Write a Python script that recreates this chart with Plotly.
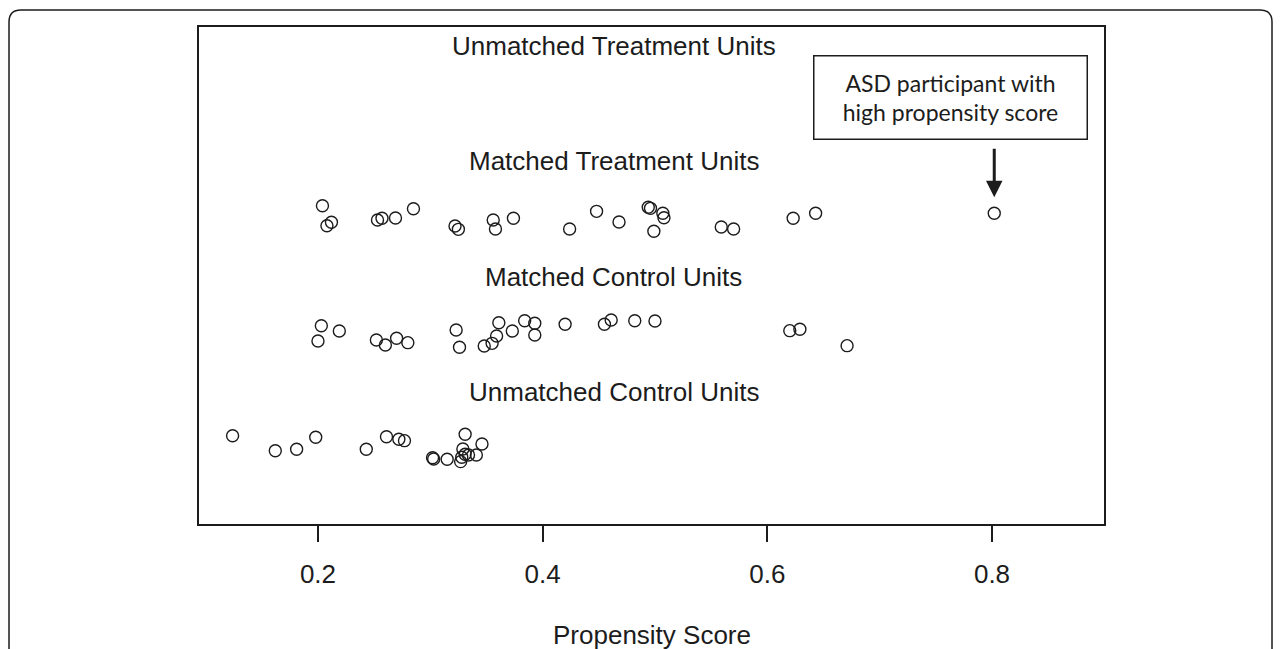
import plotly.graph_objects as go

# Propensity scores (x) and jittered vertical positions (y)
mt_x = [0.204, 0.208, 0.212, 0.253, 0.257, 0.269, 0.285, 0.322, 0.325, 0.356, 0.358, 0.374,
        0.424, 0.448, 0.468, 0.494, 0.496, 0.507, 0.508, 0.499, 0.559, 0.570, 0.623, 0.643, 0.802]
mt_y = [3.116, 2.942, 2.972, 2.992, 3.007, 3.009, 3.090, 2.940, 2.911, 2.992, 2.914, 3.007,
        2.914, 3.067, 2.974, 3.102, 3.093, 3.050, 3.012, 2.894, 2.931, 2.914, 3.007, 3.050, 3.050]

mc_x = [0.203, 0.200, 0.219, 0.252, 0.260, 0.270, 0.280, 0.323, 0.326, 0.361, 0.359, 0.355,
        0.348, 0.373, 0.384, 0.393, 0.393, 0.420, 0.455, 0.461, 0.482, 0.500, 0.620, 0.629, 0.671]
mc_y = [2.075, 1.942, 2.029, 1.951, 1.908, 1.966, 1.928, 2.038, 1.888, 2.101, 1.986, 1.922,
        1.899, 2.029, 2.118, 2.096, 1.994, 2.087, 2.087, 2.124, 2.118, 2.116, 2.032, 2.044, 1.902]

uc_x = [0.124, 0.162, 0.181, 0.198, 0.243, 0.261, 0.272, 0.277, 0.302, 0.303, 0.315, 0.327,
        0.328, 0.329, 0.331, 0.331, 0.334, 0.341, 0.346]
uc_y = [1.121, 0.991, 1.003, 1.107, 1.003, 1.112, 1.090, 1.078, 0.930, 0.919, 0.916, 0.896,
        0.934, 1.006, 1.133, 0.960, 0.954, 0.954, 1.049]

group_labels = ["Unmatched Treatment Units", "Matched Treatment Units",
                "Matched Control Units", "Unmatched Control Units"]
group_label_y = [4.5, 3.5, 2.5, 1.5]
label_x = 0.4635

tick_vals = [0.2, 0.4, 0.6, 0.8]
tick_text = ["0.2", "0.4", "0.6", "0.8"]

asd_x = 0.802
asd_y = 3.05

INK = "#1c1c1c"
FONT = "Liberation Sans"

fig = go.Figure()
for xs, ys in [(mt_x, mt_y), (mc_x, mc_y), (uc_x, uc_y)]:
    fig.add_trace(go.Scatter(
        x=xs, y=ys, mode="markers",
        marker=dict(symbol="circle-open", size=12, color=INK, line=dict(width=1.4, color=INK)),
        showlegend=False, hoverinfo="x"))

for lab, ly in zip(group_labels, group_label_y):
    fig.add_annotation(x=label_x, y=ly, text=lab, showarrow=False,
                       font=dict(family=FONT, size=26, color=INK),
                       xanchor="center", yanchor="middle")

# callout box
fig.add_annotation(x=0.7627, y=4.058, text="ASD participant with<br>high propensity score",
                   showarrow=False, font=dict(family="Lato", size=23, color=INK),
                   width=270, height=80, bordercolor=INK, borderwidth=1.5,
                   bgcolor="white", align="center", valign="middle",
                   xanchor="center", yanchor="middle")
# arrow
fig.add_annotation(x=asd_x, y=3.19, ax=0, ay=-50, text="", showarrow=True,
                   arrowhead=2, arrowsize=1.1, arrowwidth=3, arrowcolor=INK)

# axis title
fig.add_annotation(x=0.5, y=-0.2233, xref="paper", yref="paper", text="Propensity Score",
                   showarrow=False, font=dict(family=FONT, size=26, color=INK),
                   xanchor="center", yanchor="middle")

# outer rounded frame
fig.add_shape(type="path", xref="paper", yref="paper",
              path="M -0.20994 -0.28 L -0.20994 1.01006 Q -0.20994 1.03421 -0.19669 1.03421 "
                   "L 1.17238 1.03421 Q 1.18564 1.03421 1.18564 1.01006 L 1.18564 -0.28",
              line=dict(color=INK, width=1.5))

fig.update_layout(
    width=1273, height=641,
    margin=dict(l=191, r=177, t=19, b=125),
    paper_bgcolor="white", plot_bgcolor="white",
    xaxis=dict(range=[0.0941, 0.8997], tickvals=tick_vals, ticktext=tick_text,
               showgrid=False, zeroline=False, showline=True, mirror=True,
               linecolor=INK, linewidth=1.5, ticks="outside", ticklen=16, tickwidth=1.5,
               tickcolor=INK, tickfont=dict(family=FONT, size=26, color=INK),
               ticklabelstandoff=10),
    yaxis=dict(range=[0.355, 4.666], showgrid=False, zeroline=False, showline=True,
               mirror=True, linecolor=INK, linewidth=1.5, showticklabels=False, ticks=""),
)

fig.write_html("out.html")
